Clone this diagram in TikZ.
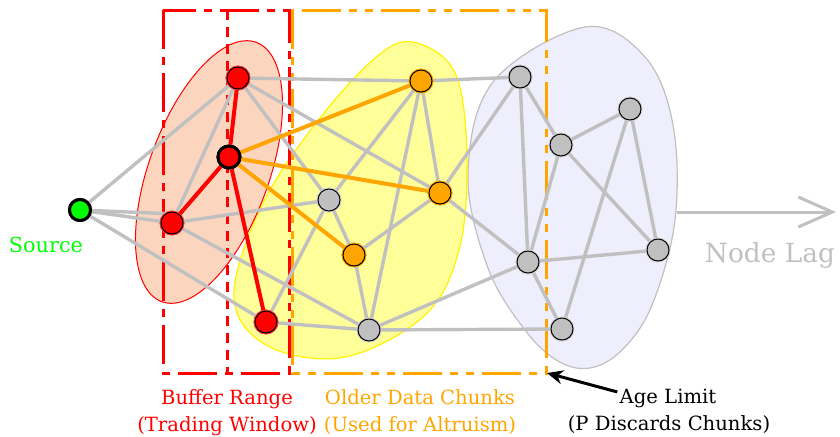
\documentclass[tikz,border=0pt]{standalone}
\usepackage{fontspec}
\setmainfont{DejaVu Serif}
\usetikzlibrary{arrows.meta}

\definecolor{peach}{RGB}{252,213,190}
\definecolor{paleyellow}{RGB}{255,255,153}
\definecolor{lavender}{RGB}{238,238,252}
\definecolor{edgegray}{RGB}{192,192,192}
\definecolor{lime}{RGB}{0,255,0}
\definecolor{amber}{RGB}{255,165,0}

\begin{document}
\begin{tikzpicture}[
  x=0.5pt, y=-0.5pt,
  gedge/.style={draw=edgegray, line width=1.7pt},
  redge/.style={draw=red, line width=2pt},
  oedge/.style={draw=amber, line width=2pt},
  vtx/.style={circle, inner sep=0pt, minimum size=11pt, draw=black, line width=0.5pt},
  gvtx/.style={vtx, fill=edgegray, preaction={draw=edgegray!70, line width=1.4pt}},
  rvtx/.style={vtx, fill=red, preaction={draw=red!80, line width=1.4pt}},
  ovtx/.style={vtx, fill=amber, preaction={draw=amber, line width=1.4pt}},
  srcvtx/.style={vtx, fill=lime, minimum size=10.5pt, line width=1.5pt},
  hubvtx/.style={vtx, fill=red, line width=1.5pt},
  frameline/.style={line width=1.5pt},
  lbl/.style={font=\fontsize{9.8}{12}\selectfont, anchor=base, inner sep=0pt}
]
\useasboundingbox (0,0) rectangle (840,436);

% group regions
\draw[edgegray, line width=0.6pt, fill=lavender]
  plot[smooth cycle, tension=0.6] coordinates {(585,27) (645,57) (673,125) (675,220)
  (652,305) (622,350) (590,368) (558,361) (525,330) (488,268) (468,175) (493,82)};
\draw[yellow, line width=0.6pt, fill=paleyellow]
  plot[smooth cycle, tension=0.6] coordinates {(417,43) (456,75) (467,160) (459,250)
  (425,315) (345,357) (268,346) (234,297) (262,205) (320,118) (380,54)};
\draw[red, line width=0.5pt, fill=peach, rotate around={70:(209,172)}]
  (209,172) ellipse [x radius=69pt, y radius=30pt];

% window frames
\draw[red, frameline, dash pattern=on 19.5pt off 4pt on 4pt off 4pt]
  (163,10) rectangle (289,373);
\draw[red, frameline, dash pattern=on 5pt off 3.5pt] (227,10) -- (227,373);
\draw[amber, frameline, dash pattern=on 19.5pt off 4pt on 4pt off 4pt on 4pt off 4pt]
  (292,10) rectangle (546,373);
\coordinate (agecorner) at (547,373);

% vertices (placed first so that connections can refer to them)
\node[srcvtx] (src) at (80,210) {};
\node[rvtx] (r1) at (238,78) {};
\node[hubvtx] (r2) at (229,157) {};
\node[rvtx] (r3) at (172,223) {};
\node[rvtx] (r4) at (266,322) {};
\node[ovtx] (o1) at (421,81) {};
\node[ovtx] (o2) at (440,193) {};
\node[ovtx] (o3) at (354,255) {};
\node[gvtx] (g1) at (329,200) {};
\node[gvtx] (g2) at (369,330) {};
\node[gvtx] (g3) at (520,77) {};
\node[gvtx] (g4) at (561,145) {};
\node[gvtx] (g5) at (630,109) {};
\node[gvtx] (g6) at (528,262) {};
\node[gvtx] (g7) at (658,250) {};
\node[gvtx] (g8) at (562,329) {};

% connections
\foreach \a/\b in {src/r1, src/r3, src/r4, r1/o1, r1/o2, r1/g1, r1/r3, r3/g1, r3/g2,
  r4/g1, r4/g2, g1/o1, g1/o3, o1/g2, o1/o2, o1/g3, o2/g3, o2/g6, o2/o3, o3/g2, g2/g6,
  g2/g8, g3/g4, g3/g6, g4/g5, g4/g6, g4/g7, g5/g8, g5/g7, g6/g7, g6/g8}
  \draw[gedge] (\a) -- (\b);
\draw[gedge] (src) -- (r3.125);
\foreach \b in {o1, o2, o3} \draw[oedge] (r2) -- (\b);
\foreach \b in {r1, r3, r4} \draw[redge] (r2) -- (\b);

% vertices again, above the connections
\node[srcvtx] at (src) {};
\node[hubvtx] at (r2) {};
\foreach \n in {r1, r3, r4} \node[rvtx] at (\n) {};
\foreach \n in {o1, o2, o3} \node[ovtx] at (\n) {};
\foreach \n in {g1, g2, g3, g4, g5, g6, g7, g8} \node[gvtx] at (\n) {};

% node lag arrow
\coordinate (lagstart) at (677,212);
\coordinate (lagend) at (836,212);
\draw[edgegray, line width=1.5pt, -{Straight Barb[length=17pt, width=15pt, line width=1.5pt]}]
  (lagstart) -- (lagend);
\node[lbl, text=edgegray, font=\fontsize{13.2}{15}\selectfont] (lag) at (770,262) {Node Lag};

% labels
\node[lbl, text=lime, font=\fontsize{10.4}{12}\selectfont] (srclbl) at (46,252) {Source};
\node[lbl, text=red] (buf1) at (227,404) {Buffer Range};
\node[lbl, text=red] (buf2) at (227,431) {(Trading Window)};
\node[lbl, text=amber] (old1) at (420,404) {Older Data Chunks};
\node[lbl, text=amber] (old2) at (420,431) {(Used for Altruism)};
\node[lbl] (age1) at (668,403) {Age Limit};
\node[lbl] (age2) at (669,430) {(P Discards Chunks)};

\draw[line width=1.5pt, -{Stealth[length=8pt, width=7pt]}] ([xshift=-1pt, yshift=3pt]age1.west) -- (agecorner);
\end{tikzpicture}
\end{document}
